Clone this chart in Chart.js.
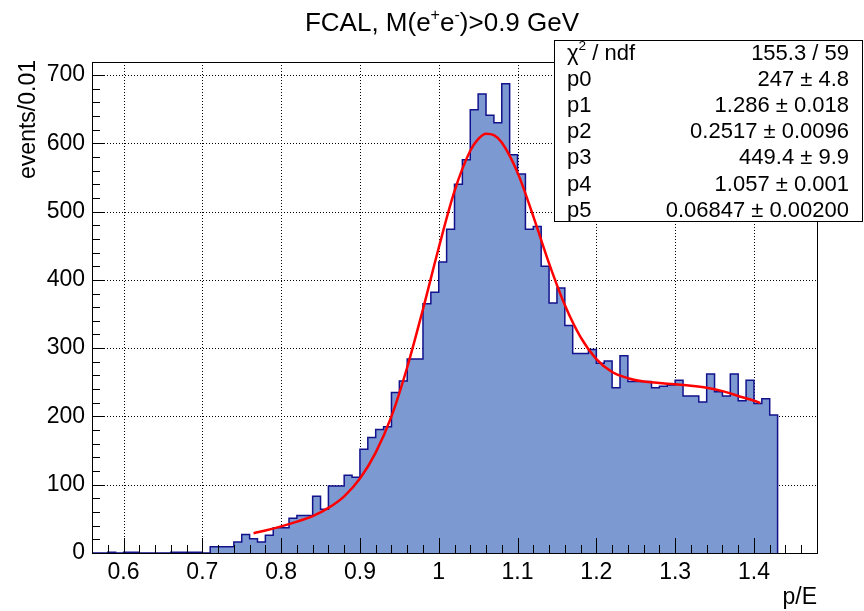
<!DOCTYPE html>
<html>
<head>
<meta charset="utf-8">
<script src="https://cdn.jsdelivr.net/npm/chart.js@4.4.1/dist/chart.umd.min.js"></script>
<style>
  html, body { margin: 0; padding: 0; background: #ffffff; }
  #wrap { width: 864px; height: 611px; position: relative; }
</style>
</head>
<body>
<div id="wrap"><canvas id="c" width="864" height="611"></canvas></div>
<script>
// ---------------- data ----------------
const binStart = 0.56;
const binWidth = 0.01;
// counts per 0.01 bin, starting at p/E = 0.56
const counts = [
  0, 0, 1, 0, 1, 1, 0, 0, 0, 0,          // 0.56 - 0.65
  1, 1, 1, 1, 0, 9, 9, 9, 16, 27,        // 0.66 - 0.75
  21, 16, 26, 37, 37, 51, 55, 55, 83, 64, // 0.76 - 0.85
  98, 98, 114, 111, 152, 169, 181, 185, 235, 252, // 0.86 - 0.95
  284, 284, 365, 382, 426, 474, 540, 576, 649, 672, // 0.96 - 1.05
  641, 630, 687, 583, 555, 474, 478, 420, 366, 388, // 1.06 - 1.15
  333, 292, 292, 298, 278, 281, 242, 289, 251, 251, // 1.16 - 1.25
  251, 242, 244, 246, 253, 230, 230, 221, 262, 236, // 1.26 - 1.35
  230, 262, 223, 253, 219, 226, 202                 // 1.36 - 1.42
];
// fit curve
const fitX = [0.765, 0.78, 0.80, 0.82, 0.84, 0.86, 0.88, 0.90, 0.92, 0.94, 0.96, 0.98,
              1.00, 1.02, 1.04, 1.05, 1.06, 1.07, 1.08, 1.10, 1.12, 1.14, 1.16, 1.18,
              1.20, 1.22, 1.24, 1.26, 1.28, 1.30, 1.32, 1.34, 1.36, 1.38, 1.40, 1.408];
const fitY = [29, 33, 39, 46, 54, 66, 83, 109, 147, 200, 272, 357,
              447, 530, 589, 606, 614, 612, 601, 557, 493, 424, 363, 316,
              284, 265, 256, 251, 249, 247, 245, 242, 237, 230, 223, 220];
const xTickValues = [0.6, 0.7, 0.8, 0.9, 1.0, 1.1, 1.2, 1.3, 1.4];
const xTickLabels = ['0.6', '0.7', '0.8', '0.9', '1', '1.1', '1.2', '1.3', '1.4'];
const yTickValues = [0, 100, 200, 300, 400, 500, 600, 700];
const yTickLabels = ['0', '100', '200', '300', '400', '500', '600', '700'];
const statLabels = ['χ2 / ndf', 'p0', 'p1', 'p2', 'p3', 'p4', 'p5'];
const statValues = ['155.3 / 59', '247 ± 4.8', '1.286 ± 0.018', '0.2517 ± 0.0096',
                    '449.4 ± 9.9', '1.057 ± 0.001', '0.06847 ± 0.00200'];
const titleText = 'FCAL, M(e+e-)>0.9 GeV';
const xTitle = 'p/E';
const yTitle = 'events/0.01';

// ---------------- build ----------------
const FONT = '"Liberation Sans", Arial, Helvetica, sans-serif';
const histPts = [];
for (let i = 0; i < counts.length; i++) {
  histPts.push({ x: binStart + i * binWidth, y: counts[i] });
}
histPts.push({ x: binStart + counts.length * binWidth, y: counts[counts.length - 1] });
histPts.push({ x: binStart + counts.length * binWidth, y: 0 });
const fitPts = fitX.map((x, i) => ({ x: x, y: fitY[i] }));

const X_MIN = 0.56, X_MAX = 1.48, Y_MIN = 0, Y_MAX = 719;

function drawRich(ctx, parts, x, y, size, align) {
  let w = 0;
  parts.forEach(p => {
    ctx.font = (p.sup ? size * 0.62 : size) + 'px ' + FONT;
    w += ctx.measureText(p.t).width;
  });
  let cx = align === 'center' ? x - w / 2 : (align === 'right' ? x - w : x);
  ctx.textAlign = 'left';
  ctx.textBaseline = 'alphabetic';
  parts.forEach(p => {
    ctx.font = (p.sup ? size * 0.62 : size) + 'px ' + FONT;
    ctx.fillText(p.t, cx, p.sup ? y - size * 0.42 : y);
    cx += ctx.measureText(p.t).width;
  });
}

const framePlugin = {
  id: 'rootFrame',
  beforeDatasetsDraw(chart) {
    const ctx = chart.ctx, a = chart.chartArea;
    const xs = chart.scales.x, ys = chart.scales.y;
    ctx.save();
    ctx.strokeStyle = '#000';
    ctx.lineWidth = 1;
    ctx.setLineDash([1, 2]);
    xTickValues.forEach(v => {
      const px = Math.round(xs.getPixelForValue(v)) + 0.5;
      ctx.beginPath(); ctx.moveTo(px, a.top); ctx.lineTo(px, a.bottom); ctx.stroke();
    });
    yTickValues.forEach(v => {
      if (v === 0) return;
      const py = Math.round(ys.getPixelForValue(v)) + 0.5;
      ctx.beginPath(); ctx.moveTo(a.left, py); ctx.lineTo(a.right, py); ctx.stroke();
    });
    ctx.restore();
  },
  afterDatasetDraw(chart, args) {
    if (args.index !== 0) return;
    const ctx = chart.ctx, a = chart.chartArea;
    const xs = chart.scales.x, ys = chart.scales.y;
    ctx.save();
    ctx.strokeStyle = '#000';
    ctx.lineWidth = 1;
    ctx.setLineDash([]);
    // x ticks (inside, pointing up)
    for (let k = 0; k <= 46; k++) {
      const v = 0.56 + k * 0.02;
      if (v > X_MAX + 1e-9) break;
      const isMajor = Math.abs(Math.round(v * 10) - v * 10) < 1e-6;
      const px = Math.round(xs.getPixelForValue(v)) + 0.5;
      const len = isMajor ? 15 : 8;
      ctx.beginPath(); ctx.moveTo(px, a.bottom); ctx.lineTo(px, a.bottom - len); ctx.stroke();
    }
    // y ticks (inside, pointing right)
    for (let v = 0; v <= Y_MAX; v += 20) {
      const isMajor = v % 100 === 0;
      const py = Math.round(ys.getPixelForValue(v)) + 0.5;
      const len = isMajor ? 13 : 8;
      ctx.beginPath(); ctx.moveTo(a.left, py); ctx.lineTo(a.left + len, py); ctx.stroke();
    }
    // frame
    ctx.strokeRect(Math.round(a.left) + 0.5, Math.round(a.top) + 0.5,
                   Math.round(a.right - a.left), Math.round(a.bottom - a.top));
    ctx.restore();
  },
  afterDraw(chart) {
    const ctx = chart.ctx, a = chart.chartArea;
    ctx.save();
    ctx.fillStyle = '#000';
    // title
    drawRich(ctx, [{ t: 'FCAL, M(e' }, { t: '+', sup: true }, { t: 'e' }, { t: '-', sup: true }, { t: ')>0.9 GeV' }],
             442, 31, 26, 'center');
    // x title
    ctx.font = '23px ' + FONT;
    ctx.textAlign = 'right';
    ctx.textBaseline = 'alphabetic';
    ctx.fillText(xTitle, a.right, 604);
    // y title
    ctx.save();
    ctx.translate(35, a.top - 2);
    ctx.rotate(-Math.PI / 2);
    ctx.textAlign = 'right';
    ctx.fillText(yTitle, 0, 0);
    ctx.restore();
    // stats box
    const bx = 554.5, by = 40.5, bw = 308, bh = 181;
    ctx.fillStyle = '#fff';
    ctx.fillRect(bx, by, bw, bh);
    ctx.strokeStyle = '#000';
    ctx.lineWidth = 1;
    ctx.strokeRect(bx, by, bw, bh);
    ctx.fillStyle = '#000';
    const rowH = 26.2;
    for (let i = 0; i < statLabels.length; i++) {
      const yb = 59.5 + i * rowH;
      if (i === 0) {
        drawRich(ctx, [{ t: 'χ' }, { t: '2', sup: true }, { t: ' / ndf' }], 567, yb, 22, 'left');
      } else {
        ctx.font = '22px ' + FONT;
        ctx.textAlign = 'left';
        ctx.fillText(statLabels[i], 567, yb);
      }
      ctx.font = '22px ' + FONT;
      ctx.textAlign = 'right';
      ctx.fillText(statValues[i], 849, yb);
    }
    ctx.restore();
  }
};

new Chart(document.getElementById('c'), {
  type: 'line',
  data: {
    datasets: [
      {
        label: 'hist',
        data: histPts,
        stepped: 'before',
        fill: 'origin',
        backgroundColor: 'rgb(125,153,209)',
        borderColor: 'rgb(18,18,140)',
        borderWidth: 1.5,
        pointRadius: 0,
        order: 2
      },
      {
        label: 'fit',
        data: fitPts,
        fill: false,
        borderColor: 'rgb(255,0,0)',
        borderWidth: 2.5,
        cubicInterpolationMode: 'monotone',
        pointRadius: 0,
        order: 1
      }
    ]
  },
  options: {
    responsive: false,
    animation: false,
    devicePixelRatio: 1,
    layout: { padding: { left: 0, right: 47, top: 62, bottom: 0 } },
    plugins: { legend: { display: false }, tooltip: { enabled: false }, title: { display: false } },
    scales: {
      x: {
        type: 'linear', min: X_MIN, max: X_MAX,
        grid: { display: false, drawTicks: false },
        border: { display: false },
        afterFit(scale) { scale.height = 58; },
        afterBuildTicks(scale) { scale.ticks = xTickValues.map(v => ({ value: v })); },
        ticks: {
          padding: 6, color: '#000', maxRotation: 0, autoSkip: false,
          font: { family: FONT, size: 23 },
          callback: (v) => { const i = xTickValues.findIndex(t => Math.abs(t - v) < 1e-9); return i >= 0 ? xTickLabels[i] : ''; }
        }
      },
      y: {
        type: 'linear', min: Y_MIN, max: Y_MAX,
        grid: { display: false, drawTicks: false },
        border: { display: false },
        afterFit(scale) { scale.width = 92; },
        afterBuildTicks(scale) { scale.ticks = yTickValues.map(v => ({ value: v })); },
        ticks: {
          padding: 7, color: '#000', autoSkip: false,
          font: { family: FONT, size: 23 },
          callback: (v) => { const i = yTickValues.indexOf(v); return i >= 0 ? yTickLabels[i] : ''; }
        }
      }
    }
  },
  plugins: [framePlugin]
});
</script>
</body>
</html>
